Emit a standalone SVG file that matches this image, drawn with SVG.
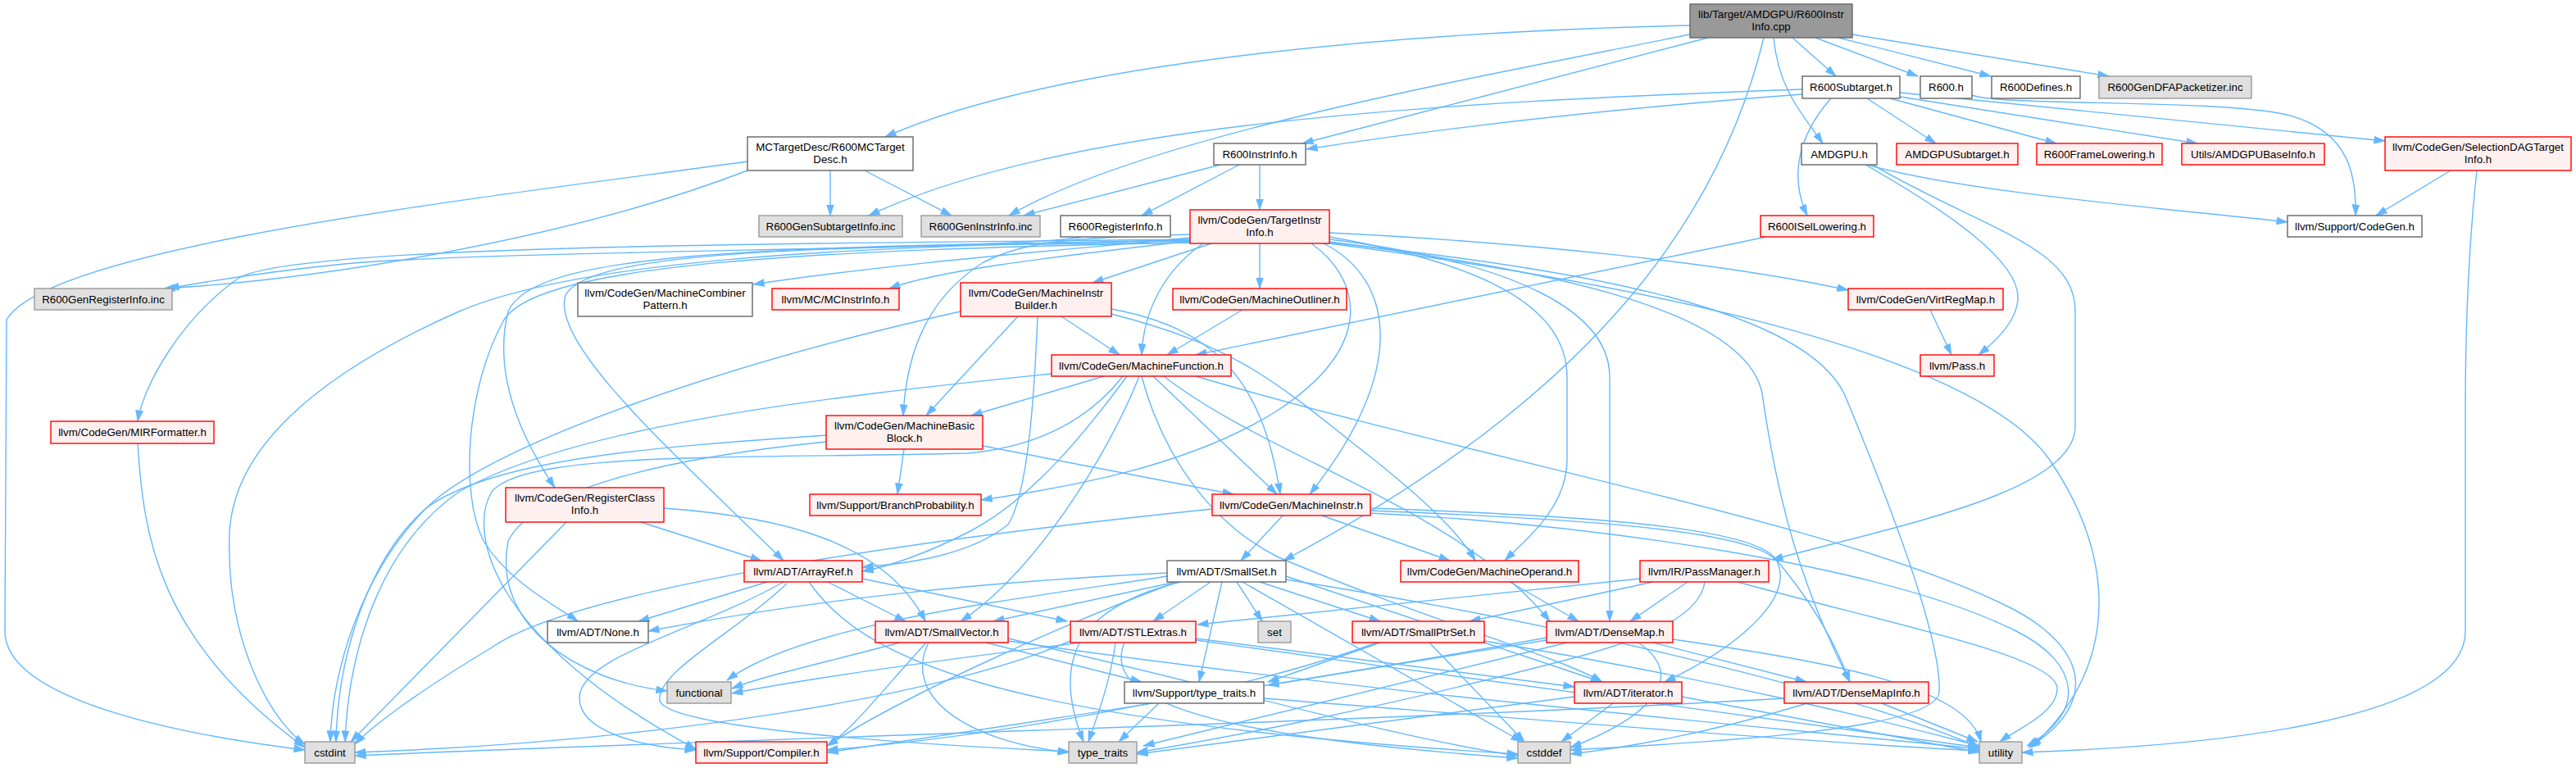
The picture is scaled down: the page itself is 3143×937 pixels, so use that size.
<svg xmlns="http://www.w3.org/2000/svg" width="3143" height="937" viewBox="0 0 3143 937">
<defs>
<marker id="ah" markerUnits="userSpaceOnUse" markerWidth="14" markerHeight="10" viewBox="0 0 14 10" refX="13.5" refY="5" orient="auto">
<path d="M0,0.4 L14,5 L0,9.6 z" fill="#63B8FF" stroke="#63B8FF" stroke-width="0.5"/>
</marker>
<style>
.e path{fill:none;stroke:#63B8FF;stroke-width:1.4;marker-end:url(#ah)}
.node rect{stroke-width:1.4}
.red rect{fill:#FFF0F0;stroke:#FF0000}
.wht rect{fill:#FFFFFF;stroke:#666666}
.gry rect{fill:#E0E0E0;stroke:#999999}
.root rect{fill:#999999;stroke:#666666}
.node text{font-family:"Liberation Sans",Arial,Helvetica,sans-serif;font-size:13.33px;fill:#000000;text-anchor:middle}
</style>
</defs>
<rect x="0" y="0" width="3143" height="937" fill="#FFFFFF"/>
<g id="edges" class="e">
<path d="M2062,31 C1750,38 1300,70 1080,167"/>
<path d="M2062,42 C1800,95 1400,165 1231,263"/>
<path d="M2084,46 L1589,175"/>
<path d="M2152,46 C2100,260 1950,480 1566,684"/>
<path d="M2164,46 C2170,110 2200,140 2224,175"/>
<path d="M2187,46 L2240,93"/>
<path d="M2215,46 L2340,93"/>
<path d="M2243,46 L2429,93"/>
<path d="M2260,42 L2573,93"/>
<path d="M2199,109 C1750,125 1300,150 1060,263"/>
<path d="M2199,115 C2000,130 1800,150 1594,182"/>
<path d="M2234,120 C2190,170 2185,220 2205,263"/>
<path d="M2278,120 L2362,175"/>
<path d="M2306,120 L2509,175"/>
<path d="M2318,118 L2681,175"/>
<path d="M2318,113 L2910,172"/>
<path d="M2406,116 C2440,130 2700,120 2790,140 C2870,160 2875,220 2874,263"/>
<path d="M2278,201 C2400,235 2650,255 2791,271"/>
<path d="M2276,201 C2380,260 2465,320 2462,365 C2460,395 2430,420 2414,433"/>
<path d="M2285,201 C2420,280 2532,300 2532,380 L2532,520 C2532,600 2320,640 2162,683"/>
<path d="M2990,208 L2899,263"/>
<path d="M3022,208 C3012,300 3008,400 3008,500 L3008,770 C3008,880 2700,910 2467,918"/>
<path d="M1013,208 L1013,263"/>
<path d="M1055,208 L1161,263"/>
<path d="M912,208 C700,290 400,340 200,352"/>
<path d="M912,197 C600,240 60,300 8,390 L6,770 C6,860 250,900 372,915"/>
<path d="M1489,201 L1249,263"/>
<path d="M1512,201 L1393,263"/>
<path d="M1537,201 L1537,256"/>
<path d="M1320,289 C1250,305 600,305 420,322 C320,332 260,342 205,352"/>
<path d="M2155,289 L1459,433"/>
<path d="M2355,378 L2381,433"/>
<path d="M1516,378 L1424,433"/>
<path d="M1452,290 C1300,305 1100,320 919,347"/>
<path d="M1452,294 C1300,312 1150,328 1085,352"/>
<path d="M1478,297 L1333,345"/>
<path d="M1537,297 L1537,352"/>
<path d="M1468,297 C1420,330 1395,380 1393,433"/>
<path d="M1452,286 C1300,290 1250,295 1200,320 C1120,370 1105,450 1102,507"/>
<path d="M1600,297 C1660,340 1680,420 1560,500 C1450,570 1300,595 1197,610"/>
<path d="M1615,297 C1700,340 1720,450 1598,603"/>
<path d="M1622,289 C1800,320 1912,370 1912,460 L1912,560 C1912,620 1860,660 1836,684"/>
<path d="M1622,292 C1850,320 1964,380 1964,460 L1964,758"/>
<path d="M1622,284 C1850,295 2100,320 2255,354"/>
<path d="M1622,295 C1900,330 2130,380 2150,480 C2170,620 2200,720 2257,832"/>
<path d="M1622,296 C1950,330 2200,380 2250,480 C2300,600 2370,780 2366,845 C2360,890 2100,905 1916,915"/>
<path d="M1622,297 C1950,340 2400,420 2500,560 C2570,660 2600,800 2478,912"/>
<path d="M1452,292 C900,298 350,300 290,340 C220,390 175,470 168,514"/>
<path d="M1452,293 C1000,300 700,320 560,380 C380,460 285,550 280,650 C275,780 330,880 372,908"/>
<path d="M1452,294 C900,300 650,310 620,380 C600,460 640,540 677,595"/>
<path d="M1452,296 C1000,305 660,320 615,390 C570,470 560,600 590,660 C620,710 680,740 705,758"/>
<path d="M1452,296 C1000,300 720,305 690,360 C670,420 830,560 956,684"/>
<path d="M1172,380 C900,440 600,540 520,620 C440,700 405,820 403,905"/>
<path d="M1242,386 L1130,507"/>
<path d="M1266,386 C1262,480 1255,600 1230,640 C1180,680 1100,688 1052,692"/>
<path d="M1295,386 L1366,433"/>
<path d="M1356,377 C1480,400 1540,460 1562,603"/>
<path d="M1356,383 C1500,420 1550,460 1650,540 C1740,610 1780,650 1800,684"/>
<path d="M1347,459 L1185,507"/>
<path d="M1283,456 C1000,485 700,520 560,600 C460,670 425,800 421,905"/>
<path d="M1407,459 L1558,603"/>
<path d="M1375,459 C1330,520 1260,610 1180,650 C1120,680 1080,692 1052,697"/>
<path d="M1390,459 C1350,560 1260,700 1172,758"/>
<path d="M1393,459 C1420,560 1480,640 1560,680 C1750,760 1900,800 1955,832"/>
<path d="M1420,459 C1550,560 1780,620 1891,758"/>
<path d="M1459,459 C1800,560 2250,640 2450,740 C2550,790 2560,860 2475,912"/>
<path d="M1370,459 C1330,510 1270,545 1180,553 C900,560 640,550 600,600 C570,650 600,780 849,914"/>
<path d="M1103,548 L1095,603"/>
<path d="M1199,544 L1505,603"/>
<path d="M1008,531 C800,545 600,560 520,620 C450,680 412,800 410,905"/>
<path d="M1008,539 C800,560 650,600 620,660 C600,760 700,830 814,843"/>
<path d="M691,637 L428,905"/>
<path d="M782,637 L929,684"/>
<path d="M810,620 C950,630 1080,660 1129,758"/>
<path d="M1479,621 C1100,660 700,720 600,790 C500,850 450,890 433,908"/>
<path d="M1565,629 L1514,684"/>
<path d="M1613,629 L1769,684"/>
<path d="M1672,620 C1900,628 2130,640 2165,680 C2190,710 2230,760 2257,832"/>
<path d="M1672,623 C1900,632 2140,645 2168,685 C2190,730 2120,790 2031,832"/>
<path d="M1672,626 C1950,640 2300,690 2460,770 C2540,810 2545,870 2473,910"/>
<path d="M168,541 C175,650 190,780 372,912"/>
<path d="M1424,699 C1200,710 1000,730 791,770"/>
<path d="M1424,703 C1250,730 980,760 887,830"/>
<path d="M1436,710 C1300,760 1100,850 1009,910"/>
<path d="M1435,710 L1212,758"/>
<path d="M1477,710 L1407,758"/>
<path d="M1491,710 L1463,832"/>
<path d="M1509,710 L1540,758"/>
<path d="M1516,710 L1857,905"/>
<path d="M1537,710 L1684,758"/>
<path d="M1569,703 L1954,832"/>
<path d="M1569,707 C1900,760 2250,840 2415,912"/>
<path d="M1440,710 C1320,740 1280,800 1322,905"/>
<path d="M936,710 L779,758"/>
<path d="M956,710 C850,770 710,800 707,850 C705,895 790,912 849,915"/>
<path d="M960,712 C900,770 800,820 805,855 C815,885 1050,905 1304,917"/>
<path d="M987,710 C1050,800 1200,880 1852,920"/>
<path d="M1010,710 L1105,758"/>
<path d="M1052,706 L1302,758"/>
<path d="M1098,784 C1000,810 930,825 893,840"/>
<path d="M1130,784 C1070,850 1040,890 1009,910"/>
<path d="M1133,784 C1100,850 1180,905 1304,918"/>
<path d="M1203,784 L1393,832"/>
<path d="M1230,779 C1500,840 1700,900 1852,922"/>
<path d="M1230,782 C1700,850 2200,890 2415,914"/>
<path d="M1319,784 C1150,805 1000,825 893,846"/>
<path d="M1306,782 C1150,850 800,905 433,918"/>
<path d="M1361,784 C1355,830 1340,870 1328,905"/>
<path d="M1372,784 C1340,860 1500,900 1852,925"/>
<path d="M1459,779 L1921,838"/>
<path d="M1459,781 C1800,830 2200,880 2415,912"/>
<path d="M1684,784 L1547,832"/>
<path d="M1680,784 C1500,850 1200,900 1009,915"/>
<path d="M1744,784 L1860,905"/>
<path d="M1811,782 C2100,830 2300,880 2415,910"/>
<path d="M1887,781 L1547,836"/>
<path d="M1912,784 L1395,910"/>
<path d="M1887,778 C1600,830 1200,890 1009,918"/>
<path d="M1999,784 C2066,830 2000,880 1916,912"/>
<path d="M2017,784 L2204,832"/>
<path d="M2041,780 C2250,810 2400,840 2417,905"/>
<path d="M2001,706 L1461,762"/>
<path d="M2017,710 L1793,758"/>
<path d="M2059,710 L1989,758"/>
<path d="M2080,710 C2075,745 2030,775 1900,808 C1700,860 1500,900 1387,918"/>
<path d="M2120,710 C2300,760 2510,800 2510,840 C2510,870 2460,890 2440,905"/>
<path d="M1842,710 L1926,758"/>
<path d="M1414,858 L1365,905"/>
<path d="M1542,852 C1900,880 2200,905 2415,916"/>
<path d="M1968,858 L1905,905"/>
<path d="M1921,850 C1700,880 1500,905 1387,920"/>
<path d="M2052,850 L2415,918"/>
<path d="M2205,858 C2100,890 2000,910 1916,920"/>
<path d="M2177,852 C1700,880 800,905 433,922"/>
<path d="M2296,858 L2413,905"/>
</g>
<g id="n-root" class="node root"><rect x="2062" y="5" width="198" height="41"/><text x="2161" y="21.5">lib/Target/AMDGPU/R600Instr</text><text x="2161" y="36.5">Info.cpp</text></g>
<g id="n-r600subtarget" class="node wht"><rect x="2199" y="93" width="119" height="27"/><text x="2258.5" y="111">R600Subtarget.h</text></g>
<g id="n-r600h" class="node wht"><rect x="2343" y="93" width="63" height="27"/><text x="2374.5" y="111">R600.h</text></g>
<g id="n-r600defines" class="node wht"><rect x="2430" y="93" width="108" height="27"/><text x="2484" y="111">R600Defines.h</text></g>
<g id="n-dfapacketizer" class="node gry"><rect x="2561" y="93" width="186" height="27"/><text x="2654" y="111">R600GenDFAPacketizer.inc</text></g>
<g id="n-mctargetdesc" class="node wht"><rect x="912" y="167" width="202" height="41"/><text x="1013" y="183.5">MCTargetDesc/R600MCTarget</text><text x="1013" y="198.5">Desc.h</text></g>
<g id="n-r600instrinfo" class="node wht"><rect x="1481" y="175" width="112" height="26"/><text x="1537" y="192.5">R600InstrInfo.h</text></g>
<g id="n-amdgpu" class="node wht"><rect x="2198" y="175" width="92" height="26"/><text x="2244" y="192.5">AMDGPU.h</text></g>
<g id="n-amdgpusubtarget" class="node red"><rect x="2314" y="175" width="148" height="26"/><text x="2388" y="192.5">AMDGPUSubtarget.h</text></g>
<g id="n-r600framelowering" class="node red"><rect x="2485" y="175" width="153" height="26"/><text x="2561.5" y="192.5">R600FrameLowering.h</text></g>
<g id="n-amdgpubaseinfo" class="node red"><rect x="2662" y="175" width="174" height="26"/><text x="2749" y="192.5">Utils/AMDGPUBaseInfo.h</text></g>
<g id="n-selectiondag" class="node red"><rect x="2910" y="167" width="227" height="41"/><text x="3023.5" y="183.5">llvm/CodeGen/SelectionDAGTarget</text><text x="3023.5" y="198.5">Info.h</text></g>
<g id="n-gensubtargetinfo" class="node gry"><rect x="926" y="263" width="175" height="26"/><text x="1013.5" y="280.5">R600GenSubtargetInfo.inc</text></g>
<g id="n-geninstrinfo" class="node gry"><rect x="1124" y="263" width="145" height="26"/><text x="1196.5" y="280.5">R600GenInstrInfo.inc</text></g>
<g id="n-r600registerinfo" class="node wht"><rect x="1294" y="263" width="134" height="26"/><text x="1361" y="280.5">R600RegisterInfo.h</text></g>
<g id="n-targetinstrinfo" class="node red"><rect x="1452" y="256" width="170" height="41"/><text x="1537" y="272.5">llvm/CodeGen/TargetInstr</text><text x="1537" y="287.5">Info.h</text></g>
<g id="n-r600isellowering" class="node red"><rect x="2148" y="263" width="138" height="26"/><text x="2217" y="280.5">R600ISelLowering.h</text></g>
<g id="n-codegen" class="node wht"><rect x="2791" y="263" width="164" height="26"/><text x="2873" y="280.5">llvm/Support/CodeGen.h</text></g>
<g id="n-genregisterinfo" class="node gry"><rect x="42" y="352" width="168" height="26"/><text x="126" y="369.5">R600GenRegisterInfo.inc</text></g>
<g id="n-machinecombinerpattern" class="node wht"><rect x="705" y="345" width="213" height="41"/><text x="811.5" y="361.5">llvm/CodeGen/MachineCombiner</text><text x="811.5" y="376.5">Pattern.h</text></g>
<g id="n-mcinstrinfo" class="node red"><rect x="942" y="352" width="155" height="26"/><text x="1019.5" y="369.5">llvm/MC/MCInstrInfo.h</text></g>
<g id="n-machineinstrbuilder" class="node red"><rect x="1172" y="345" width="184" height="41"/><text x="1264" y="361.5">llvm/CodeGen/MachineInstr</text><text x="1264" y="376.5">Builder.h</text></g>
<g id="n-machineoutliner" class="node red"><rect x="1431" y="352" width="212" height="26"/><text x="1537" y="369.5">llvm/CodeGen/MachineOutliner.h</text></g>
<g id="n-virtregmap" class="node red"><rect x="2255" y="352" width="189" height="26"/><text x="2349.5" y="369.5">llvm/CodeGen/VirtRegMap.h</text></g>
<g id="n-machinefunction" class="node red"><rect x="1283" y="433" width="219" height="26"/><text x="1392.5" y="450.5">llvm/CodeGen/MachineFunction.h</text></g>
<g id="n-pass" class="node red"><rect x="2343" y="433" width="90" height="26"/><text x="2388" y="450.5">llvm/Pass.h</text></g>
<g id="n-mirformatter" class="node red"><rect x="62" y="514" width="199" height="27"/><text x="161.5" y="532">llvm/CodeGen/MIRFormatter.h</text></g>
<g id="n-machinebasicblock" class="node red"><rect x="1008" y="507" width="191" height="41"/><text x="1103.5" y="523.5">llvm/CodeGen/MachineBasic</text><text x="1103.5" y="538.5">Block.h</text></g>
<g id="n-registerclassinfo" class="node red"><rect x="617" y="595" width="193" height="42"/><text x="713.5" y="611.5">llvm/CodeGen/RegisterClass</text><text x="713.5" y="626.5">Info.h</text></g>
<g id="n-branchprobability" class="node red"><rect x="988" y="603" width="209" height="26"/><text x="1092.5" y="620.5">llvm/Support/BranchProbability.h</text></g>
<g id="n-machineinstr" class="node red"><rect x="1479" y="603" width="193" height="26"/><text x="1575.5" y="620.5">llvm/CodeGen/MachineInstr.h</text></g>
<g id="n-arrayref" class="node red"><rect x="908" y="684" width="144" height="26"/><text x="980" y="701.5">llvm/ADT/ArrayRef.h</text></g>
<g id="n-smallset" class="node wht"><rect x="1424" y="684" width="145" height="26"/><text x="1496.5" y="701.5">llvm/ADT/SmallSet.h</text></g>
<g id="n-machineoperand" class="node red"><rect x="1709" y="684" width="217" height="26"/><text x="1817.5" y="701.5">llvm/CodeGen/MachineOperand.h</text></g>
<g id="n-passmanager" class="node red"><rect x="2001" y="684" width="157" height="26"/><text x="2079.5" y="701.5">llvm/IR/PassManager.h</text></g>
<g id="n-none" class="node wht"><rect x="668" y="758" width="123" height="26"/><text x="729.5" y="775.5">llvm/ADT/None.h</text></g>
<g id="n-smallvector" class="node red"><rect x="1068" y="758" width="162" height="26"/><text x="1149" y="775.5">llvm/ADT/SmallVector.h</text></g>
<g id="n-stlextras" class="node red"><rect x="1306" y="758" width="153" height="26"/><text x="1382.5" y="775.5">llvm/ADT/STLExtras.h</text></g>
<g id="n-set" class="node gry"><rect x="1535" y="758" width="40" height="26"/><text x="1555" y="775.5">set</text></g>
<g id="n-smallptrset" class="node red"><rect x="1650" y="758" width="161" height="26"/><text x="1730.5" y="775.5">llvm/ADT/SmallPtrSet.h</text></g>
<g id="n-densemap" class="node red"><rect x="1887" y="758" width="154" height="26"/><text x="1964" y="775.5">llvm/ADT/DenseMap.h</text></g>
<g id="n-functional" class="node gry"><rect x="814" y="832" width="78" height="26"/><text x="853" y="849.5">functional</text></g>
<g id="n-support-type-traits" class="node wht"><rect x="1372" y="832" width="170" height="26"/><text x="1457" y="849.5">llvm/Support/type_traits.h</text></g>
<g id="n-iterator" class="node red"><rect x="1921" y="832" width="131" height="26"/><text x="1986.5" y="849.5">llvm/ADT/iterator.h</text></g>
<g id="n-densemapinfo" class="node red"><rect x="2177" y="832" width="176" height="26"/><text x="2265" y="849.5">llvm/ADT/DenseMapInfo.h</text></g>
<g id="n-cstdint" class="node gry"><rect x="372" y="905" width="61" height="26"/><text x="402.5" y="922.5">cstdint</text></g>
<g id="n-compiler" class="node red"><rect x="849" y="905" width="160" height="26"/><text x="929" y="922.5">llvm/Support/Compiler.h</text></g>
<g id="n-type-traits" class="node gry"><rect x="1304" y="905" width="83" height="26"/><text x="1345.5" y="922.5">type_traits</text></g>
<g id="n-cstddef" class="node gry"><rect x="1852" y="905" width="64" height="26"/><text x="1884" y="922.5">cstddef</text></g>
<g id="n-utility" class="node gry"><rect x="2415" y="905" width="52" height="26"/><text x="2441" y="922.5">utility</text></g>
</svg>
